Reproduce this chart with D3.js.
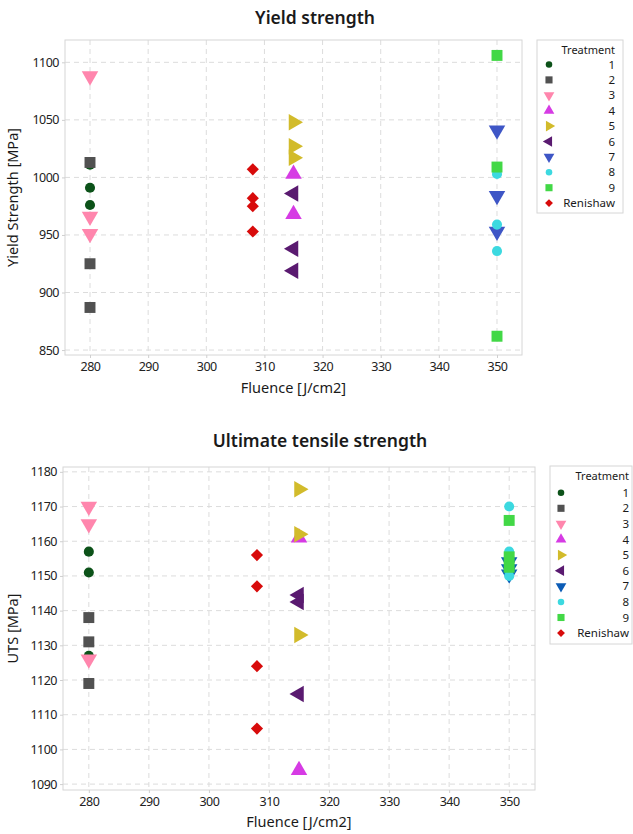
<!DOCTYPE html>
<html>
<head>
<meta charset="utf-8">
<script src="https://cdn.jsdelivr.net/npm/d3@7"></script>
<style>
  html, body { margin: 0; padding: 0; background: #fff; }
  svg { display: block; font-family: "Noto Sans", "Open Sans", sans-serif; }
</style>
</head>
<body>
<svg id="fig" width="633" height="834"></svg>
<script>
// ---- data ----
const treatments = ["1", "2", "3", "4", "5", "6", "7", "8", "9", "Renishaw"];
const treatmentFluence = [280, 280, 280, 315, 315, 315, 350, 350, 350, 308];
const fluenceTicks = [280, 290, 300, 310, 320, 330, 340, 350];

const yieldTicks = [850, 900, 950, 1000, 1050, 1100];
const yieldValues = [
  [1011, 991, 976],
  [1013, 925, 887],
  [1088, 966, 951],
  [1003, 968],
  [1048, 1027, 1017],
  [986, 938, 919],
  [1041, 984, 953],
  [1003, 959, 936],
  [1106, 1009, 862],
  [1007, 982, 975, 953]
];

const utsTicks = [1090, 1100, 1110, 1120, 1130, 1140, 1150, 1160, 1170, 1180];
const utsValues = [
  [1157, 1151, 1127],
  [1138, 1131, 1119],
  [1170, 1165, 1126],
  [1161, 1094],
  [1175, 1162, 1133],
  [1144.5, 1142.5, 1116],
  [1154, 1152, 1150.5],
  [1170, 1157, 1150],
  [1166, 1155.5, 1152.5],
  [1156, 1147, 1124, 1106]
];

// ---- marker styles per treatment ----
const shapes = ["circle", "square", "down", "up", "right", "left", "down", "circle", "square", "diamond"];
const colorsYield = ["#0c5219", "#515151", "#ff86ad", "#d63be4", "#d2bb2b", "#5a1a70", "#3e56c6", "#3cd9e0", "#42d846", "#d80b0b"];
const colorsUts   = ["#0c5219", "#515151", "#ff86ad", "#d63be4", "#d2bb2b", "#5a1a70", "#0c5cb6", "#3cd9e0", "#42d846", "#d80b0b"];

function symbolPath(shape, scale) {
  const s = scale;
  switch (shape) {
    case "circle":  return { d: d3.symbol(d3.symbolCircle, 80 * s)(), rot: 0 };
    case "square":  return { d: d3.symbol(d3.symbolSquare, 120 * s)(), rot: 0 };
    case "up":      return { d: d3.symbol(d3.symbolTriangle, 118 * s)(), rot: 0 };
    case "down":    return { d: d3.symbol(d3.symbolTriangle, 118 * s)(), rot: 180 };
    case "right":   return { d: d3.symbol(d3.symbolTriangle, 118 * s)(), rot: 90 };
    case "left":    return { d: d3.symbol(d3.symbolTriangle, 118 * s)(), rot: -90 };
    case "diamond": return { d: d3.symbol(d3.symbolSquare, 74 * s)(), rot: 45 };
  }
}

const svg = d3.select("#fig");

function drawPanel(cfg) {
  const g = svg.append("g");
  const x = d3.scaleLinear().domain([275.7, 354.3]).range([cfg.left, cfg.right]);
  const y = d3.scaleLinear().domain(cfg.yDomain).range([cfg.bottom, cfg.top]);

  // title
  g.append("text")
    .attr("x", cfg.titleX).attr("y", cfg.titleY)
    .attr("text-anchor", "middle")
    .attr("font-size", 17.5).attr("font-weight", 600).attr("fill", "#1a1a1a")
    .text(cfg.title);

  // grid
  g.append("g").selectAll("line").data(fluenceTicks).join("line")
    .attr("x1", d => x(d)).attr("x2", d => x(d))
    .attr("y1", cfg.top).attr("y2", cfg.bottom)
    .attr("stroke", "#dcdcdc").attr("stroke-dasharray", "5,4");
  g.append("g").selectAll("line").data(cfg.yTicks).join("line")
    .attr("x1", cfg.left).attr("x2", cfg.right)
    .attr("y1", d => y(d)).attr("y2", d => y(d))
    .attr("stroke", "#dcdcdc").attr("stroke-dasharray", "5,4");

  // frame
  g.append("rect")
    .attr("x", cfg.left).attr("y", cfg.top)
    .attr("width", cfg.right - cfg.left).attr("height", cfg.bottom - cfg.top)
    .attr("fill", "none").attr("stroke", "#d6d6d6");

  // axes
  const xAxis = g.append("g").attr("transform", `translate(0,${cfg.bottom})`)
    .call(d3.axisBottom(x).tickValues(fluenceTicks).tickFormat(d3.format("d")).tickSize(3).tickPadding(4));
  const yAxis = g.append("g").attr("transform", `translate(${cfg.left},0)`)
    .call(d3.axisLeft(y).tickValues(cfg.yTicks).tickFormat(d3.format("d")).tickSize(3).tickPadding(3));
  [xAxis, yAxis].forEach(a => {
    a.select(".domain").remove();
    a.selectAll(".tick line").attr("stroke", "#cfcfcf");
    a.selectAll(".tick text").attr("font-size", 12.5).attr("fill", "#222")
      .attr("font-family", "Noto Sans, sans-serif").style("letter-spacing", "-0.5px");
  });

  // axis labels
  g.append("text")
    .attr("x", (cfg.left + cfg.right) / 2).attr("y", cfg.xLabelY)
    .attr("text-anchor", "middle").attr("font-size", 14.5).attr("fill", "#1a1a1a")
    .text("Fluence [J/cm2]");
  g.append("text")
    .attr("transform", `translate(${cfg.yLabelX},${(cfg.top + cfg.bottom) / 2}) rotate(-90)`)
    .attr("text-anchor", "middle").attr("font-size", 14.5).attr("fill", "#1a1a1a")
    .text(cfg.yLabel);

  // points
  const pts = g.append("g");
  cfg.values.forEach((vals, i) => {
    const sym = symbolPath(shapes[i], 1);
    pts.append("g").selectAll("path").data(vals).join("path")
      .attr("d", sym.d)
      .attr("transform", d => `translate(${x(treatmentFluence[i])},${y(d)}) rotate(${sym.rot})`)
      .attr("fill", cfg.colors[i]);
  });

  // legend
  const lg = g.append("g");
  lg.append("rect")
    .attr("x", cfg.legX).attr("y", cfg.legY)
    .attr("width", cfg.legW).attr("height", cfg.legH)
    .attr("fill", "#fff").attr("stroke", "#d6d6d6");
  lg.append("text")
    .attr("x", cfg.legTextX).attr("y", cfg.legY + 14)
    .attr("text-anchor", "end").attr("font-size", 11).attr("fill", "#1a1a1a")
    .text("Treatment");
  treatments.forEach((t, i) => {
    const cy = cfg.legFirst + i * cfg.legStep;
    const sym = symbolPath(shapes[i], 0.42);
    lg.append("path")
      .attr("d", sym.d)
      .attr("transform", `translate(${cfg.legMarkX},${cy}) rotate(${sym.rot})`)
      .attr("fill", cfg.colors[i]);
    lg.append("text")
      .attr("x", cfg.legTextX).attr("y", cy + 4)
      .attr("text-anchor", "end").attr("font-size", 11.5).attr("fill", "#1a1a1a")
      .text(t);
  });
}

drawPanel({
  title: "Yield strength", titleX: 315, titleY: 24,
  left: 65, right: 522, top: 40, bottom: 355,
  yDomain: [845.7, 1119.4], yTicks: yieldTicks,
  yLabel: "Yield Strength [MPa]", yLabelX: 18, xLabelY: 393,
  values: yieldValues, colors: colorsYield,
  legX: 537, legY: 40, legW: 86, legH: 173,
  legFirst: 64.5, legStep: 15.4, legMarkX: 549, legTextX: 615
});

drawPanel({
  title: "Ultimate tensile strength", titleX: 320, titleY: 447,
  left: 63, right: 535, top: 467, bottom: 790,
  yDomain: [1088.3, 1181.4], yTicks: utsTicks,
  yLabel: "UTS [MPa]", yLabelX: 18, xLabelY: 827,
  values: utsValues, colors: colorsUts,
  legX: 550, legY: 466, legW: 82, legH: 178,
  legFirst: 492.7, legStep: 15.6, legMarkX: 561, legTextX: 629
});
</script>
</body>
</html>
